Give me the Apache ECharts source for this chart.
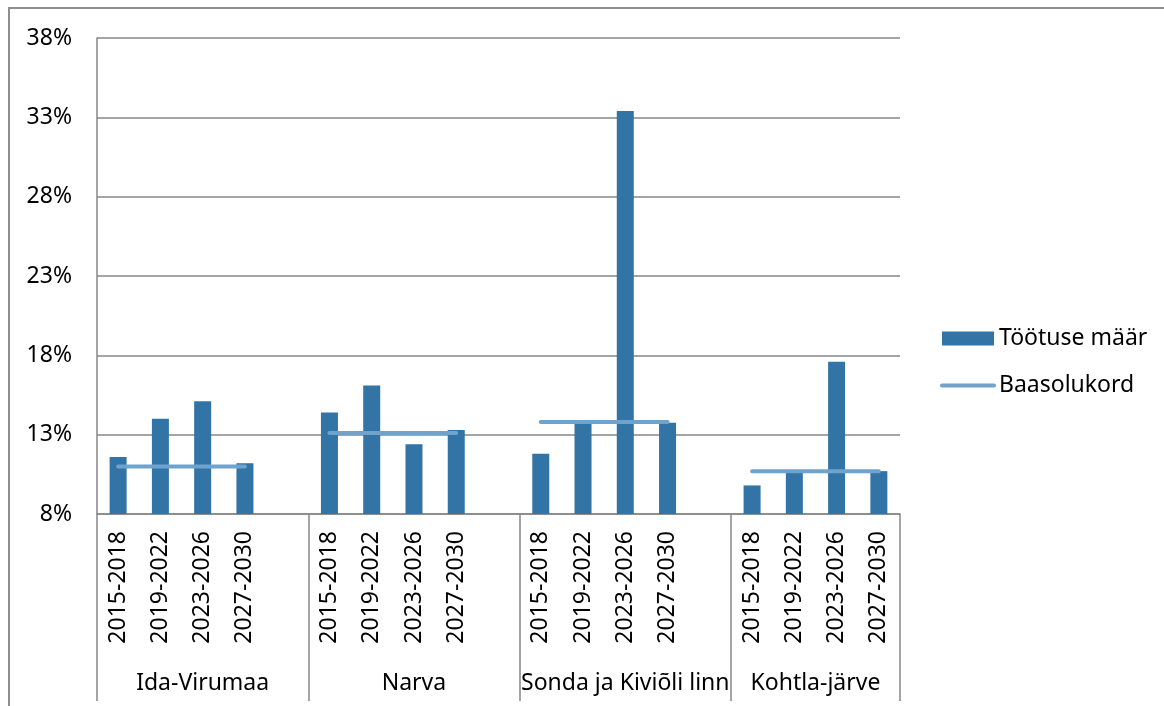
<!DOCTYPE html>
<html>
<head>
<meta charset="utf-8">
<script src="https://cdn.jsdelivr.net/npm/echarts@6/dist/echarts.min.js"></script>
<style>
  html, body { margin: 0; padding: 0; background: #fff; }
  #wrap { position: relative; width: 1164px; height: 706px; overflow: hidden; }
  #chart { position: absolute; left: 0; top: 0; width: 1164px; height: 706px; }
  #frame { position: absolute; left: 8px; top: 7px; right: -10px; bottom: -10px;
           border-top: 2px solid #8e8e8e; border-left: 2px solid #8e8e8e; pointer-events: none; }
</style>
</head>
<body>
<div id="wrap"><div id="chart"></div><div id="frame"></div></div>
<script>
// ---- data ----
const periods = ['2015-2018', '2019-2022', '2023-2026', '2027-2030'];
const regions = ['Ida-Virumaa', 'Narva', 'Sonda ja Kiviõli linn', 'Kohtla-järve'];
const rateIdaVirumaa = [11.6, 14.0, 15.1, 11.2];
const rateNarva = [14.4, 16.1, 12.4, 13.3];
const rateSonda = [11.8, 13.7, 33.4, 13.75];
const rateKohtla = [9.8, 10.6, 17.6, 10.7];
const baselineByRegion = [11.0, 13.1, 13.8, 10.7];
const seriesNames = ['Töötuse määr', 'Baasolukord'];
const yMin = 8, yMax = 38, yStep = 5;

// ---- build category axis (with an empty slot between regions) ----
const rates = [rateIdaVirumaa, rateNarva, rateSonda, rateKohtla];
const cats = [], barData = [], lineData = [];
const boundaries = [0], centers = [];
regions.forEach((r, gi) => {
  const start = cats.length;
  periods.forEach((p, pi) => {
    cats.push(r + '|' + p);
    barData.push(rates[gi][pi]);
    lineData.push(baselineByRegion[gi]);
  });
  if (gi < regions.length - 1) {
    cats.push('gap' + gi);
    barData.push(null);
    lineData.push(null);
  }
  boundaries.push(cats.length);
  centers.push((start + cats.length) / 2);
});

const FONT = '"Noto Sans"';
const chart = echarts.init(document.getElementById('chart'));
chart.setOption({
  animation: false,
  backgroundColor: '#fff',
  textStyle: { fontFamily: FONT },
  grid: { left: 97, right: 264, top: 38, bottom: 192, containLabel: false },
  legend: {
    orient: 'vertical',
    left: 940,
    top: 327,
    padding: 0,
    itemWidth: 52,
    itemHeight: 14,
    itemGap: 24,
    textStyle: { fontSize: 23, color: '#000', fontFamily: FONT },
    data: [
      { name: seriesNames[0], icon: 'rect' },
      { name: seriesNames[1], itemStyle: { opacity: 0 },
        lineStyle: { width: 4, cap: 'round', color: '#6fa3cd' } }
    ]
  },
  xAxis: [
    {
      type: 'category',
      data: cats,
      boundaryGap: true,
      axisLine: { show: true, lineStyle: { color: '#878787', width: 1.5 } },
      axisTick: { show: false },
      axisLabel: {
        interval: 0,
        rotate: 90,
        margin: 17,
        fontSize: 23,
        color: '#000',
        fontFamily: FONT,
        formatter: v => (v.indexOf('|') >= 0 ? v.split('|')[1] : '')
      },
      splitLine: { show: false }
    },
    {
      type: 'value',
      position: 'bottom',
      min: 0,
      max: cats.length,
      axisLine: { show: false },
      axisTick: {
        show: true,
        customValues: boundaries,
        length: 187,
        lineStyle: { color: '#878787', width: 1.5 }
      },
      axisLabel: {
        show: true,
        customValues: centers,
        margin: 158,
        fontSize: 23,
        color: '#000',
        fontFamily: FONT,
        formatter: v => {
          const i = centers.indexOf(v);
          return i >= 0 ? regions[i] : '';
        }
      },
      splitLine: { show: false }
    }
  ],
  yAxis: {
    type: 'value',
    min: yMin,
    max: yMax,
    interval: yStep,
    axisLine: { show: true, lineStyle: { color: '#878787', width: 1.5 } },
    axisTick: { show: false },
    axisLabel: {
      margin: 25,
      fontSize: 23,
      color: '#000',
      fontFamily: FONT,
      formatter: v => v + '%'
    },
    splitLine: { show: true, lineStyle: { color: '#878787', width: 1.5 } }
  },
  series: [
    {
      name: seriesNames[0],
      type: 'bar',
      xAxisIndex: 0,
      barWidth: 17,
      itemStyle: { color: '#3274a5' },
      data: barData
    },
    {
      name: seriesNames[1],
      type: 'line',
      xAxisIndex: 0,
      symbol: 'none',
      connectNulls: false,
      lineStyle: { color: '#6fa3cd', width: 4, cap: 'round' },
      itemStyle: { color: '#6fa3cd' },
      data: lineData,
      z: 3
    }
  ]
});
</script>
</body>
</html>
